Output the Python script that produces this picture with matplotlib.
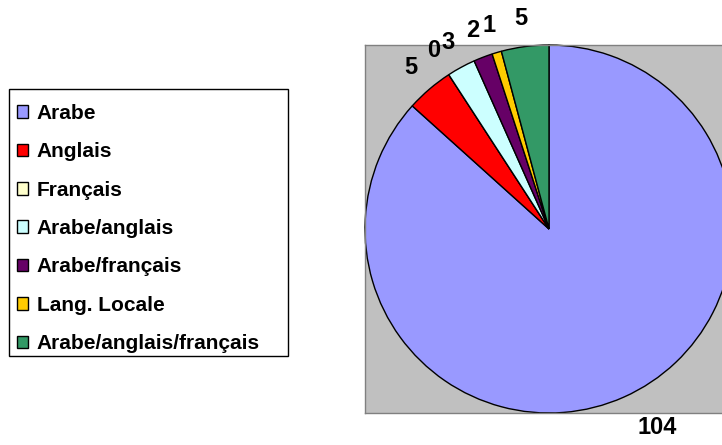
import matplotlib
matplotlib.use("Agg")
import matplotlib.pyplot as plt
from matplotlib.patches import Rectangle
import numpy as np

plt.rcParams['font.family'] = ['Liberation Sans', 'DejaVu Sans']

# data
langues = ['Arabe', 'Anglais', 'Français', 'Arabe/anglais', 'Arabe/français',
           'Lang. Locale', 'Arabe/anglais/français']
effectifs = [104, 5, 0, 3, 2, 1, 5]
couleurs = ['#9999FF', '#FF0000', '#FFFFCC', '#CCFFFF', '#660066', '#FFCC00', '#339966']

fig = plt.figure(figsize=(7.22, 4.45), dpi=100)
ax = fig.add_axes([365 / 722, 32 / 445, 368 / 722, 368 / 445])
ax.set_facecolor('#C0C0C0')

wedges, _ = ax.pie(effectifs, colors=couleurs, startangle=90, counterclock=False,
                   radius=1, frame=True,
                   wedgeprops=dict(edgecolor='black', linewidth=1))
ax.set_xlim(-1, 1)
ax.set_ylim(-1, 1)
ax.set_xticks([])
ax.set_yticks([])
for s in ax.spines.values():
    s.set_color('#808080')
    s.set_linewidth(1)

# value labels outside the wedges
for w, v in zip(wedges, effectifs):
    ang = np.deg2rad((w.theta1 + w.theta2) / 2)
    if v > 50:
        ax.text(1.18 * np.cos(ang), 1.18 * np.sin(ang), str(v), ha='left',
                va='center', fontsize=17, fontweight='bold', clip_on=False)
    else:
        ax.text(1.155 * np.cos(ang), 1.155 * np.sin(ang), str(v), ha='center',
                va='center', fontsize=17, fontweight='bold', clip_on=False)

# legend (no frame) + separate box
leg = fig.legend(wedges, langues, loc='upper left',
                 bbox_to_anchor=(17 / 722, 1 - 104 / 445), borderaxespad=0,
                 prop=dict(size=15, weight='bold'), frameon=False,
                 handlelength=0.55, handleheight=0.55, handletextpad=0.4,
                 labelspacing=0.93, borderpad=0)
fig.patches.append(Rectangle((9 / 722, 1 - 356 / 445), 279 / 722, 267 / 445,
                             transform=fig.transFigure, fill=False,
                             edgecolor='black', linewidth=1))

fig.savefig('out.png', dpi=100)
